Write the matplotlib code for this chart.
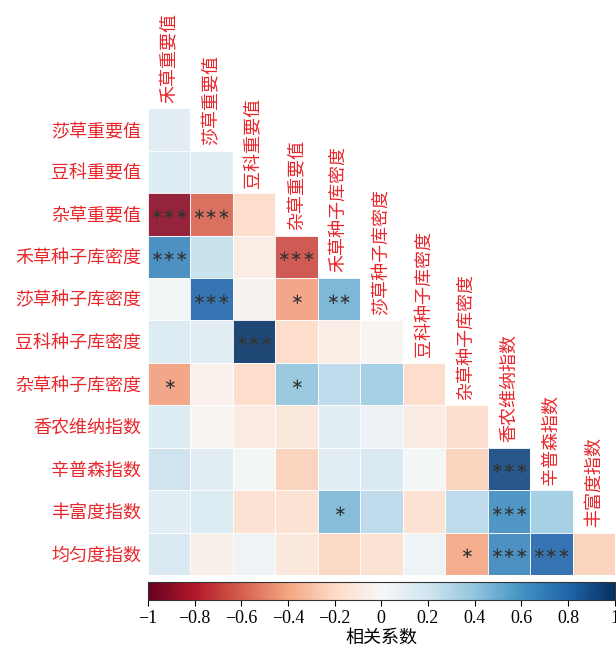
import numpy as np
import matplotlib
matplotlib.use("Agg")
import matplotlib.pyplot as plt
from matplotlib.colors import Normalize

plt.rcParams['font.family'] = ['Liberation Serif', 'Noto Sans CJK SC']
plt.rcParams['axes.unicode_minus'] = True

row_labels = ["莎草重要值", "豆科重要值", "杂草重要值", "禾草种子库密度", "莎草种子库密度",
              "豆科种子库密度", "杂草种子库密度", "香农维纳指数", "辛普森指数", "丰富度指数", "均匀度指数"]
col_labels = ["禾草重要值", "莎草重要值", "豆科重要值", "杂草重要值", "禾草种子库密度",
              "莎草种子库密度", "豆科种子库密度", "杂草种子库密度", "香农维纳指数", "辛普森指数", "丰富度指数"]

# lower-triangle correlation values, one list per row
r_shacao_zy = [0.12]
r_douke_zy = [0.15, 0.12]
r_zacao_zy = [-0.90, -0.60, -0.20]
r_hecao_zz = [0.66, 0.24, -0.08, -0.66]
r_shacao_zz = [0.03, 0.80, -0.04, -0.42, 0.48]
r_douke_zz = [0.15, 0.12, 0.98, -0.20, -0.08, -0.03]
r_zacao_zz = [-0.42, -0.06, -0.20, 0.40, 0.28, 0.36, -0.20]
r_shannon = [0.15, -0.03, -0.09, -0.12, 0.12, 0.07, -0.09, -0.18]
r_simpson = [0.22, 0.12, 0.03, -0.24, 0.12, 0.17, 0.03, -0.24, 0.92]
r_richness = [0.12, 0.15, -0.17, -0.17, 0.46, 0.28, -0.17, 0.28, 0.63, 0.36]
r_evenness = [0.17, -0.07, 0.05, -0.12, -0.22, -0.17, 0.05, -0.40, 0.66, 0.80, -0.24]

values = [r_shacao_zy, r_douke_zy, r_zacao_zy, r_hecao_zz, r_shacao_zz, r_douke_zz,
          r_zacao_zz, r_shannon, r_simpson, r_richness, r_evenness]

# significance marks per row
s_shacao_zy = [""]
s_douke_zy = ["", ""]
s_zacao_zy = ["***", "***", ""]
s_hecao_zz = ["***", "", "", "***"]
s_shacao_zz = ["", "***", "", "*", "**"]
s_douke_zz = ["", "", "***", "", "", ""]
s_zacao_zz = ["*", "", "", "*", "", "", ""]
s_shannon = [""] * 8
s_simpson = [""] * 8 + ["***"]
s_richness = ["", "", "", "", "*", "", "", "", "***", ""]
s_evenness = ["", "", "", "", "", "", "", "*", "***", "***", ""]

stars = [s_shacao_zy, s_douke_zy, s_zacao_zy, s_hecao_zz, s_shacao_zz, s_douke_zz,
         s_zacao_zz, s_shannon, s_simpson, s_richness, s_evenness]

n = len(row_labels)
mat = np.full((n, n), np.nan)
for i, row in enumerate(values):
    mat[i, :len(row)] = row
mat = np.ma.masked_invalid(mat)

fig = plt.figure(figsize=(6.16, 6.52), dpi=100)
ax = fig.add_axes([0.240, 0.118, 0.759, 0.716])
norm = Normalize(-1, 1)
cmap = plt.get_cmap('RdBu')
mesh = ax.pcolormesh(np.arange(n + 1), np.arange(n + 1), mat, cmap=cmap, norm=norm,
                     edgecolor=(1, 1, 1, 0.3), linewidth=0.6, alpha=0.9)
ax.set_xlim(0, n)
ax.set_ylim(n, 0)
for s in ax.spines.values():
    s.set_visible(False)
ax.set_xticks([])
ax.set_yticks(np.arange(n) + 0.5)
red = '#e8262b'
ax.set_yticklabels(row_labels, fontsize=13, color=red)
ax.tick_params(axis='y', length=0, pad=5)

for j, lab in enumerate(col_labels):
    ax.annotate(lab, xy=(j + 0.5, j), xytext=(0, 4), textcoords='offset points',
                rotation=90, ha='center', va='bottom', fontsize=13, color=red,
                annotation_clip=False)

for i, row in enumerate(stars):
    for j, s in enumerate(row):
        if s:
            ax.text(j + 0.5, i + 0.5, "\u2217" * len(s), ha='center', va='center',
                    fontsize=11, color='#333333', fontfamily='DejaVu Sans')

cax = fig.add_axes([0.240, 0.080, 0.758, 0.0276])
sm = plt.cm.ScalarMappable(norm=norm, cmap=cmap)
cb = fig.colorbar(sm, cax=cax, orientation='horizontal')
ticks = np.round(np.arange(-1, 1.01, 0.2), 1)
cb.set_ticks(ticks)
cb.set_ticklabels(["−1" if t == -1 else "1" if t == 1 else "0" if t == 0 else f"{t:.1f}".replace("-", "−") for t in ticks])
cb.ax.tick_params(labelsize=13, length=4, width=0.8)
cb.outline.set_linewidth(0.8)
cb.outline.set_edgecolor('#333333')
cb.set_label("相关系数", fontsize=13, labelpad=2)

fig.savefig("out.png", dpi=100)
